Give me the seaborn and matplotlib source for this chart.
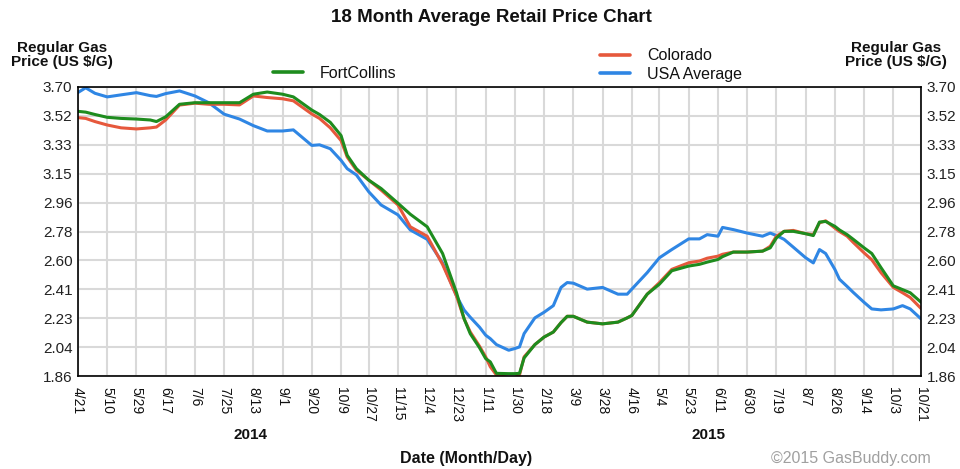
import numpy as np
import pandas as pd
import seaborn as sb
import matplotlib.pyplot as plt
from matplotlib.lines import Line2D

# Данные

dates = ["2014-04-21", "2014-04-26", "2014-05-02", "2014-05-10", "2014-05-19", "2014-05-29", "2014-06-07",
         "2014-06-11", "2014-06-17", "2014-06-26", "2014-07-06", "2014-07-15", "2014-07-25", "2014-08-04",
         "2014-08-13", "2014-08-22", "2014-09-01", "2014-09-08", "2014-09-20", "2014-09-25", "2014-10-02",
         "2014-10-09", "2014-10-13", "2014-10-19", "2014-10-27", "2014-11-04", "2014-11-15", "2014-11-23",
         "2014-12-04", "2014-12-14", "2014-12-23", "2014-12-28", "2015-01-01", "2015-01-07", "2015-01-11",
         "2015-01-14", "2015-01-18", "2015-01-26", "2015-01-30", "2015-02-02", "2015-02-05", "2015-02-12",
         "2015-02-18", "2015-02-24", "2015-03-01", "2015-03-05", "2015-03-09", "2015-03-18", "2015-03-28",
         "2015-04-07", "2015-04-13", "2015-04-16", "2015-04-26", "2015-05-04", "2015-05-12", "2015-05-23",
         "2015-05-30", "2015-06-04", "2015-06-11", "2015-06-14", "2015-06-21", "2015-06-30", "2015-07-10",
         "2015-07-15", "2015-07-19", "2015-07-24", "2015-07-30", "2015-08-07", "2015-08-12", "2015-08-16",
         "2015-08-20", "2015-08-26", "2015-08-29", "2015-09-03", "2015-09-07", "2015-09-14", "2015-09-19",
         "2015-09-25", "2015-10-03", "2015-10-09", "2015-10-14", "2015-10-21"]

usa = [3.665, 3.695, 3.66, 3.637, 3.65, 3.664, 3.645, 3.64, 3.658, 3.675,
       3.643, 3.60, 3.527, 3.496, 3.454, 3.42, 3.42, 3.427, 3.328, 3.332,
       3.307, 3.233, 3.18, 3.14, 3.033, 2.949, 2.886, 2.79, 2.73, 2.58,
       2.371, 2.28, 2.234, 2.171, 2.12, 2.098, 2.06, 2.024, 2.035, 2.045,
       2.13, 2.23, 2.266, 2.308, 2.424, 2.455, 2.451, 2.413, 2.424, 2.381,
       2.381, 2.413, 2.518, 2.613, 2.665, 2.733, 2.733, 2.76, 2.75, 2.806,
       2.792, 2.77, 2.75, 2.77, 2.754, 2.73, 2.68, 2.613, 2.58, 2.665,
       2.64, 2.539, 2.476, 2.43, 2.392, 2.329, 2.287, 2.281, 2.287, 2.308,
       2.287, 2.224]

colorado = [3.505, 3.50, 3.48, 3.458, 3.44, 3.433, 3.44, 3.445, 3.49, 3.585,
            3.597, 3.59, 3.59, 3.586, 3.643, 3.633, 3.625, 3.612, 3.528, 3.50,
            3.44, 3.359, 3.254, 3.17, 3.107, 3.044, 2.949, 2.81, 2.75, 2.57,
            2.371, 2.224, 2.14, 2.05, 1.982, 1.919, 1.866, 1.85, 1.85, 1.866,
            1.982, 2.06, 2.108, 2.14, 2.20, 2.24, 2.24, 2.203, 2.192, 2.203,
            2.23, 2.245, 2.381, 2.455, 2.539, 2.581, 2.592, 2.61, 2.623, 2.635,
            2.649, 2.649, 2.655, 2.686, 2.75, 2.781, 2.787, 2.766, 2.76, 2.835,
            2.848, 2.802, 2.78, 2.75, 2.71, 2.644, 2.60, 2.518, 2.424, 2.39,
            2.36, 2.29]

fort_collins = [3.545, 3.54, 3.525, 3.507, 3.50, 3.496, 3.49, 3.48, 3.51, 3.59,
                3.60, 3.60, 3.60, 3.60, 3.654, 3.668, 3.654, 3.637, 3.553, 3.525,
                3.475, 3.391, 3.265, 3.18, 3.107, 3.054, 2.96, 2.89, 2.81, 2.64,
                2.392, 2.224, 2.129, 2.04, 1.971, 1.95, 1.877, 1.875, 1.875, 1.877,
                1.975, 2.06, 2.108, 2.14, 2.20, 2.24, 2.24, 2.203, 2.192, 2.203,
                2.23, 2.245, 2.381, 2.445, 2.53, 2.56, 2.571, 2.585, 2.602, 2.62,
                2.649, 2.649, 2.655, 2.676, 2.739, 2.781, 2.781, 2.766, 2.754, 2.84,
                2.844, 2.813, 2.79, 2.76, 2.73, 2.676, 2.64, 2.55, 2.434, 2.41,
                2.39, 2.33]

tick_dates = ["2014-04-21", "2014-05-10", "2014-05-29", "2014-06-17", "2014-07-06", "2014-07-25",
              "2014-08-13", "2014-09-01", "2014-09-20", "2014-10-09", "2014-10-27", "2014-11-15",
              "2014-12-04", "2014-12-23", "2015-01-11", "2015-01-30", "2015-02-18", "2015-03-09",
              "2015-03-28", "2015-04-16", "2015-05-04", "2015-05-23", "2015-06-11", "2015-06-30",
              "2015-07-19", "2015-08-07", "2015-08-26", "2015-09-14", "2015-10-03", "2015-10-21"]

y_labels = ["1.86", "2.04", "2.23", "2.41", "2.60", "2.78", "2.96", "3.15", "3.33", "3.52", "3.70"]

series = ["USA Average", "Colorado", "FortCollins"]
colors = {"USA Average": "#2f86e4", "Colorado": "#e6583c", "FortCollins": "#1e8c1e"}

df = pd.DataFrame({"date": pd.to_datetime(dates), "USA Average": usa,
                   "Colorado": colorado, "FortCollins": fort_collins})
df = df.melt(id_vars="date", var_name="area", value_name="price")

# График

sb.set_theme(style="white")
plt.rcParams["font.family"] = ["Liberation Sans", "DejaVu Sans"]
plt.rcParams["text.color"] = "#111111"
plt.rcParams["xtick.color"] = "#111111"
plt.rcParams["ytick.color"] = "#222222"

fig = plt.figure(figsize=(9.6, 4.69), dpi=100)
ax = fig.add_axes([78/960, 1-376/469, 843/960, 289/469])

sb.lineplot(data=df, x="date", y="price", hue="area", hue_order=series, palette=colors,
            linewidth=2.2, legend=False, ax=ax)

ticks = pd.to_datetime(tick_dates)
ax.set_xlim(ticks[0], ticks[-1])
ax.set_ylim(1.86, 3.70)
ax.set_xticks(ticks)
ax.set_xticklabels([f"{d.month}/{d.day}" for d in ticks], rotation=-90, fontsize=10, va="top")
ax.set_yticks(np.linspace(1.86, 3.70, 11))
ax.set_yticklabels(y_labels)
ax.tick_params(axis="y", labelright=True, length=0, pad=4, labelsize=11)
ax.tick_params(axis="x", length=0, pad=8)
ax.set_xlabel("")
ax.set_ylabel("")
ax.grid(True, color="#d9d9d9", linewidth=1.5)
for s in ax.spines.values():
    s.set_color("black")
    s.set_linewidth(1.2)

# Подписи

fig.text(491/960, 1-18/469, "18 Month Average Retail Price Chart", ha="center", va="center",
         fontsize=13.5, fontweight="bold")
fig.text(62/960, 1-55/469, "Regular Gas\nPrice (US $/G)", ha="center", va="center",
         fontsize=11, fontweight="bold", linespacing=1.05)
fig.text(896/960, 1-55/469, "Regular Gas\nPrice (US $/G)", ha="center", va="center",
         fontsize=11, fontweight="bold", linespacing=1.05)
fig.text(250/960, 1-435/469, "2014", ha="center", va="center", fontsize=11, fontweight="bold")
fig.text(708/960, 1-435/469, "2015", ha="center", va="center", fontsize=11, fontweight="bold")
fig.text(466/960, 1-458/469, "Date (Month/Day)", ha="center", va="center", fontsize=11.5, fontweight="bold")
fig.text(851/960, 1-458/469, "\u00a92015 GasBuddy.com", ha="center", va="center", fontsize=11.5, color="#a0a0a0")

# Легенда

h = {k: Line2D([], [], color=colors[k], linewidth=2.6) for k in series}
fig.legend([h["FortCollins"]], ["FortCollins"], loc="center left", bbox_to_anchor=(273/960, 1-73/469),
           frameon=False, fontsize=11.5, handlelength=1.9, handletextpad=1.05, borderpad=0, borderaxespad=0)
fig.legend([h["Colorado"], h["USA Average"]], ["Colorado", "USA Average"], loc="center left",
           bbox_to_anchor=(600/960, 1-65/469), frameon=False, fontsize=11.5, handlelength=1.9,
           handletextpad=1.05, borderpad=0, borderaxespad=0, labelspacing=0.2)

fig.savefig("out.png", dpi=100)
